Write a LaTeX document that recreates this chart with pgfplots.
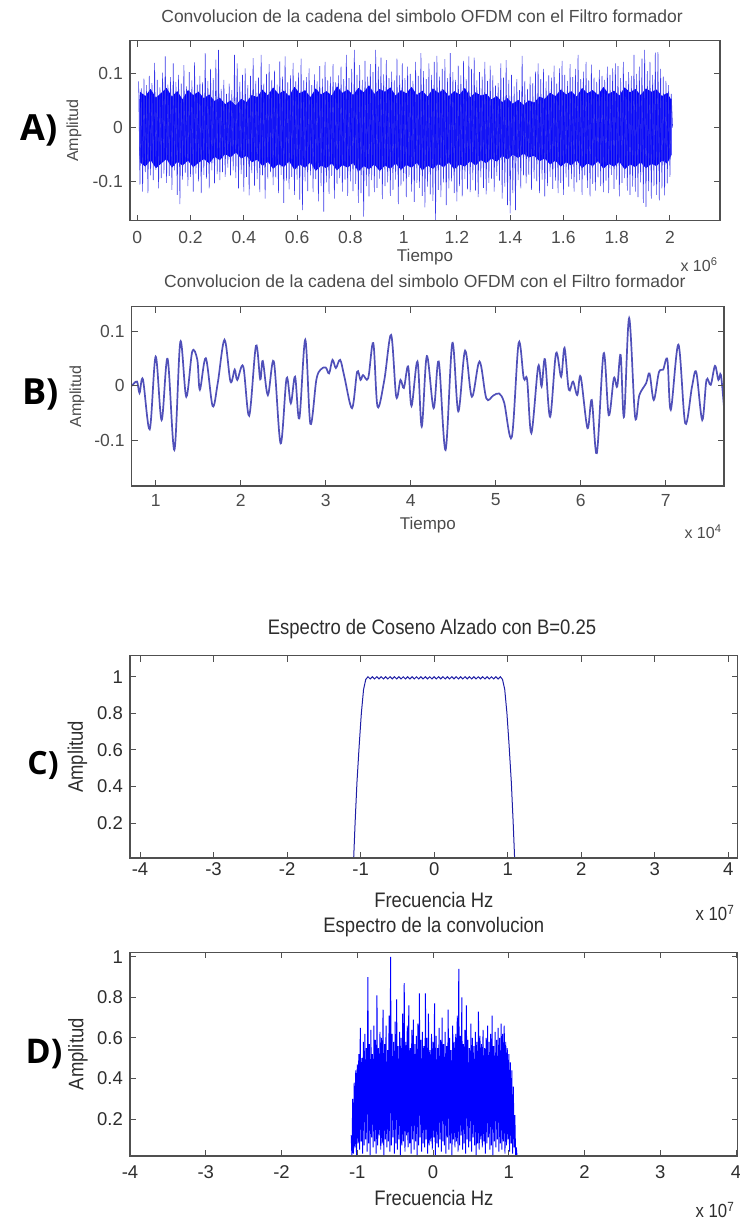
\documentclass[border=0pt]{standalone}
\usepackage{fontspec}
\setmainfont{Liberation Sans}
\newfontfamily\narrowsans[FakeStretch=0.88]{Liberation Sans}
\newfontfamily\panelfont{Open Sans}
\usepackage{pgfplots}
\pgfplotsset{compat=1.18}
\usepgfplotslibrary{fillbetween}

\definecolor{mtext}{RGB}{75,75,75}
\definecolor{mtextdark}{RGB}{45,45,45}
\definecolor{maxis}{RGB}{80,80,80}
\definecolor{sigblue}{RGB}{0,0,255}
\definecolor{spikeblue}{RGB}{55,55,232}
\definecolor{waveblue}{RGB}{80,80,185}
\definecolor{rcblue}{RGB}{30,30,165}

\newcommand\fs[1]{\fontsize{#1}{#1}\selectfont}

\pgfplotsset{
  oldmatlab/.style={
    scale only axis, axis on top,
    anchor=south west,
    tick align=inside, major tick length=6pt,
    every tick/.style={maxis, line width=1pt},
    axis line style={maxis, line width=1.2pt},
    /pgf/number format/assume math mode=true,
    scaled ticks=false,
    xticklabel style={anchor=center, inner sep=0pt},
    yticklabel style={anchor=east, inner sep=0pt, xshift=-7pt},
  },
}

\begin{document}
\begin{tikzpicture}[x=1pt,y=1pt]

% ---------------- A) time signal, full length ----------------
\begin{axis}[oldmatlab, at={(130pt,999.3pt)}, width=590pt, height=180pt,
  xmin=-0.0274, xmax=2.188, ymin=-0.1716, ymax=0.160,
  xtick={0,0.2,0.4,0.6,0.8,1,1.2,1.4,1.6,1.8,2}, ytick={-0.1,0,0.1},
  ticklabel style={font=\fs{17.5}, text=mtext},
  xticklabel style={yshift=-16.3pt},
  title={Convolucion de la cadena del simbolo OFDM con el Filtro formador},
  title style={at={(axis description cs:0.495,1.1)}, anchor=center, font=\fs{17.5}, text=mtext},
  xlabel={Tiempo},
  xlabel style={at={(axis description cs:0.5,-0.2017)}, anchor=center, font=\fs{17}, text=mtext},
  ylabel={Amplitud},
  ylabel style={at={(axis description cs:-0.0949,0.5)}, anchor=center, font=\fs{16}, text=mtext},
]
% dense core of the signal: upper and lower edges
\addplot[name path=coreup, draw=none] coordinates {
(0.008,0.050)(0.01,0.066)(0.03,0.058)(0.05,0.071)(0.07,0.055)(0.09,0.064)(0.11,0.073)(0.13,0.057)
(0.15,0.067)(0.17,0.052)(0.19,0.069)(0.21,0.060)(0.23,0.066)(0.25,0.054)(0.27,0.061)(0.29,0.049)
(0.31,0.055)(0.33,0.043)(0.35,0.050)(0.37,0.041)(0.39,0.053)(0.41,0.047)(0.43,0.060)(0.45,0.056)
(0.47,0.070)(0.49,0.059)(0.51,0.074)(0.53,0.062)(0.55,0.068)(0.57,0.058)(0.59,0.075)(0.61,0.063)
(0.63,0.069)(0.65,0.056)(0.67,0.072)(0.69,0.061)(0.71,0.067)(0.73,0.059)(0.75,0.076)(0.77,0.064)
(0.79,0.070)(0.81,0.060)(0.83,0.073)(0.85,0.065)(0.87,0.078)(0.89,0.062)(0.91,0.071)(0.93,0.066)
(0.95,0.074)(0.97,0.059)(0.99,0.069)(1.01,0.063)(1.03,0.075)(1.05,0.060)(1.07,0.068)(1.09,0.057)
(1.11,0.072)(1.13,0.064)(1.15,0.070)(1.17,0.058)(1.19,0.067)(1.21,0.061)(1.23,0.073)(1.25,0.056)
(1.27,0.065)(1.29,0.059)(1.31,0.062)(1.33,0.052)(1.35,0.058)(1.37,0.047)(1.39,0.054)(1.41,0.044)
(1.43,0.051)(1.45,0.042)(1.47,0.050)(1.49,0.046)(1.51,0.057)(1.53,0.053)(1.55,0.064)(1.57,0.058)
(1.59,0.070)(1.61,0.061)(1.63,0.067)(1.65,0.057)(1.67,0.073)(1.69,0.063)(1.71,0.069)(1.73,0.060)
(1.75,0.075)(1.77,0.062)(1.79,0.068)(1.81,0.059)(1.83,0.074)(1.85,0.065)(1.87,0.071)(1.89,0.060)
(1.91,0.072)(1.93,0.066)(1.95,0.070)(1.97,0.058)(1.99,0.064)(2.006,0.050)
};
\addplot[name path=corelo, draw=none] coordinates {
(0.008,-0.050)(0.01,-0.064)(0.03,-0.072)(0.05,-0.060)(0.07,-0.075)(0.09,-0.066)(0.11,-0.058)(0.13,-0.074)
(0.15,-0.063)(0.17,-0.070)(0.19,-0.061)(0.21,-0.073)(0.23,-0.065)(0.25,-0.058)(0.27,-0.066)(0.29,-0.054)
(0.31,-0.060)(0.33,-0.049)(0.35,-0.055)(0.37,-0.046)(0.39,-0.057)(0.41,-0.052)(0.43,-0.064)(0.45,-0.059)
(0.47,-0.071)(0.49,-0.063)(0.51,-0.076)(0.53,-0.067)(0.55,-0.073)(0.57,-0.062)(0.59,-0.078)(0.61,-0.068)
(0.63,-0.074)(0.65,-0.064)(0.67,-0.080)(0.69,-0.070)(0.71,-0.075)(0.73,-0.066)(0.75,-0.079)(0.77,-0.069)
(0.79,-0.074)(0.81,-0.065)(0.83,-0.081)(0.85,-0.071)(0.87,-0.077)(0.89,-0.068)(0.91,-0.080)(0.93,-0.070)
(0.95,-0.076)(0.97,-0.066)(0.99,-0.078)(1.01,-0.069)(1.03,-0.074)(1.05,-0.065)(1.07,-0.079)(1.09,-0.070)
(1.11,-0.076)(1.13,-0.067)(1.15,-0.073)(1.17,-0.064)(1.19,-0.077)(1.21,-0.068)(1.23,-0.072)(1.25,-0.062)
(1.27,-0.070)(1.29,-0.060)(1.31,-0.066)(1.33,-0.057)(1.35,-0.063)(1.37,-0.052)(1.39,-0.059)(1.41,-0.050)
(1.43,-0.056)(1.45,-0.048)(1.47,-0.055)(1.49,-0.052)(1.51,-0.062)(1.53,-0.057)(1.55,-0.068)(1.57,-0.061)
(1.59,-0.072)(1.61,-0.064)(1.63,-0.070)(1.65,-0.060)(1.67,-0.075)(1.69,-0.066)(1.71,-0.071)(1.73,-0.062)
(1.75,-0.076)(1.77,-0.067)(1.79,-0.072)(1.81,-0.063)(1.83,-0.077)(1.85,-0.068)(1.87,-0.073)(1.89,-0.064)
(1.91,-0.075)(1.93,-0.067)(1.95,-0.071)(1.97,-0.061)(1.99,-0.066)(2.006,-0.050)
};
\addplot[sigblue, draw=none] fill between[of=coreup and corelo];
% signal samples (alternating excursions), step 0.005e6
\addplot[spikeblue, line width=0.55pt] table[row sep=\\, header=false, x expr=0.005+\coordindex*0.005, y index=0] {
0.085\\ -0.105\\ 0.072\\ -0.118\\ 0.090\\ -0.082\\ 0.078\\ -0.121\\ 0.095\\ -0.088\\
0.082\\ -0.097\\ 0.119\\ -0.078\\ 0.088\\ -0.112\\ 0.074\\ -0.093\\ 0.101\\ -0.085\\
0.131\\ -0.102\\ 0.079\\ -0.089\\ 0.093\\ -0.115\\ 0.118\\ -0.079\\ 0.084\\ -0.124\\
0.097\\ -0.141\\ 0.081\\ -0.096\\ 0.115\\ -0.083\\ 0.076\\ -0.108\\ 0.102\\ -0.091\\
0.087\\ -0.118\\ 0.120\\ -0.085\\ 0.079\\ -0.099\\ 0.095\\ -0.121\\ 0.083\\ -0.087\\
0.137\\ -0.094\\ 0.086\\ -0.112\\ 0.108\\ -0.079\\ 0.091\\ -0.103\\ 0.125\\ -0.086\\
0.143\\ -0.097\\ 0.071\\ -0.082\\ 0.088\\ -0.091\\ 0.062\\ -0.074\\ 0.081\\ -0.088\\
0.069\\ -0.079\\ 0.134\\ -0.093\\ 0.118\\ -0.112\\ 0.084\\ -0.086\\ 0.097\\ -0.118\\
0.109\\ -0.091\\ 0.078\\ -0.125\\ 0.095\\ -0.084\\ 0.128\\ -0.107\\ 0.086\\ -0.095\\
0.092\\ -0.119\\ 0.134\\ -0.088\\ 0.081\\ -0.131\\ 0.099\\ -0.094\\ 0.117\\ -0.082\\
0.088\\ -0.106\\ 0.105\\ -0.092\\ 0.079\\ -0.121\\ 0.122\\ -0.087\\ 0.094\\ -0.139\\
0.131\\ -0.098\\ 0.083\\ -0.114\\ 0.096\\ -0.091\\ 0.119\\ -0.124\\ 0.085\\ -0.096\\
0.101\\ -0.133\\ 0.127\\ -0.152\\ 0.087\\ -0.099\\ 0.093\\ -0.117\\ 0.109\\ -0.088\\
0.078\\ -0.119\\ 0.098\\ -0.095\\ 0.085\\ -0.136\\ 0.113\\ -0.108\\ 0.090\\ -0.155\\
0.121\\ -0.101\\ 0.087\\ -0.122\\ 0.094\\ -0.089\\ 0.117\\ -0.131\\ 0.083\\ -0.104\\
0.096\\ -0.093\\ 0.112\\ -0.118\\ 0.089\\ -0.096\\ 0.134\\ -0.126\\ 0.091\\ -0.099\\
0.108\\ -0.117\\ 0.143\\ -0.104\\ 0.097\\ -0.139\\ 0.115\\ -0.121\\ 0.088\\ -0.164\\
0.123\\ -0.108\\ 0.094\\ -0.127\\ 0.117\\ -0.097\\ 0.102\\ -0.119\\ 0.143\\ -0.111\\
0.112\\ -0.094\\ 0.129\\ -0.132\\ 0.098\\ -0.108\\ 0.124\\ -0.101\\ 0.091\\ -0.126\\
0.103\\ -0.115\\ 0.087\\ -0.096\\ 0.127\\ -0.141\\ 0.096\\ -0.107\\ 0.118\\ -0.099\\
0.091\\ -0.128\\ 0.112\\ -0.091\\ 0.099\\ -0.118\\ 0.086\\ -0.137\\ 0.121\\ -0.102\\
0.095\\ -0.111\\ 0.137\\ -0.126\\ 0.104\\ -0.147\\ 0.089\\ -0.109\\ 0.118\\ -0.123\\
0.097\\ -0.135\\ 0.121\\ -0.170\\ 0.132\\ -0.115\\ 0.094\\ -0.128\\ 0.108\\ -0.101\\
0.126\\ -0.143\\ 0.091\\ -0.112\\ 0.137\\ -0.099\\ 0.102\\ -0.121\\ 0.088\\ -0.136\\
0.114\\ -0.108\\ 0.096\\ -0.127\\ 0.123\\ -0.095\\ 0.089\\ -0.114\\ 0.131\\ -0.119\\
0.108\\ -0.097\\ 0.129\\ -0.116\\ 0.087\\ -0.128\\ 0.102\\ -0.092\\ 0.094\\ -0.111\\
0.121\\ -0.123\\ 0.086\\ -0.102\\ 0.114\\ -0.094\\ 0.096\\ -0.118\\ 0.077\\ -0.089\\
0.082\\ -0.098\\ 0.118\\ -0.131\\ 0.092\\ -0.109\\ 0.124\\ -0.143\\ 0.088\\ -0.158\\
0.097\\ -0.121\\ 0.076\\ -0.152\\ 0.089\\ -0.097\\ 0.069\\ -0.112\\ 0.132\\ -0.088\\
0.086\\ -0.103\\ 0.071\\ -0.087\\ 0.094\\ -0.115\\ 0.082\\ -0.094\\ 0.103\\ -0.099\\
0.118\\ -0.121\\ 0.089\\ -0.096\\ 0.108\\ -0.127\\ 0.085\\ -0.108\\ 0.096\\ -0.091\\
0.092\\ -0.113\\ 0.114\\ -0.098\\ 0.081\\ -0.121\\ 0.109\\ -0.102\\ 0.123\\ -0.124\\
0.097\\ -0.092\\ 0.086\\ -0.109\\ 0.117\\ -0.095\\ 0.093\\ -0.118\\ 0.108\\ -0.101\\
0.134\\ -0.097\\ 0.089\\ -0.124\\ 0.103\\ -0.088\\ 0.121\\ -0.111\\ 0.087\\ -0.127\\
0.116\\ -0.104\\ 0.092\\ -0.116\\ 0.084\\ -0.092\\ 0.106\\ -0.108\\ 0.095\\ -0.119\\
0.088\\ -0.098\\ 0.112\\ -0.121\\ 0.097\\ -0.087\\ 0.109\\ -0.113\\ 0.118\\ -0.096\\
0.113\\ -0.127\\ 0.091\\ -0.102\\ 0.121\\ -0.093\\ 0.086\\ -0.116\\ 0.102\\ -0.124\\
0.095\\ -0.109\\ 0.134\\ -0.118\\ 0.099\\ -0.128\\ 0.112\\ -0.101\\ 0.127\\ -0.139\\
0.143\\ -0.146\\ 0.104\\ -0.117\\ 0.121\\ -0.131\\ 0.097\\ -0.108\\ 0.138\\ -0.124\\
0.139\\ -0.134\\ 0.108\\ -0.112\\ 0.094\\ -0.125\\ 0.086\\ -0.103\\ 0.078\\ -0.091\\
0.062\\ 0.000\\
};
\end{axis}

% ---------------- B) time signal, detail ----------------
\begin{axis}[oldmatlab, at={(131.7pt,734pt)}, width=592.3pt, height=179.3pt,
  xmin=0.718, xmax=7.686, ymin=-0.1845, ymax=0.146,
  xtick={1,2,3,4,5,6,7}, ytick={-0.1,0,0.1},
  ticklabel style={font=\fs{17.5}, text=mtext},
  xticklabel style={yshift=-14pt},
  title={Convolucion de la cadena del simbolo OFDM con el Filtro formador},
  title style={at={(axis description cs:0.495,1.11)}, anchor=center, font=\fs{17.5}, text=mtext},
  xlabel={Tiempo},
  xlabel style={at={(axis description cs:0.5,-0.2175)}, anchor=center, font=\fs{17}, text=mtext},
  ylabel={Amplitud},
  ylabel style={at={(axis description cs:-0.0924,0.5)}, anchor=center, font=\fs{16}, text=mtext},
]
\addplot[waveblue, line width=1.7pt, smooth, tension=0.55] coordinates {
(0.72,0.000)(0.78,0.008)(0.81,-0.013)(0.85,0.012)(0.93,-0.080)(1.00,0.054)(1.07,-0.063)
(1.14,0.050)(1.22,-0.118)(1.29,0.081)(1.36,-0.020)(1.43,0.063)(1.49,0.048)(1.52,-0.007)
(1.59,0.051)(1.67,-0.037)(1.73,0.005)(1.81,0.085)(1.88,0.008)(1.93,0.030)(1.96,0.011)
(2.03,0.036)(2.10,-0.055)(2.18,0.074)(2.23,0.012)(2.26,0.046)(2.32,-0.017)(2.39,0.045)
(2.47,-0.106)(2.54,0.014)(2.59,-0.032)(2.64,0.017)(2.69,-0.060)(2.76,0.085)(2.82,-0.070)
(2.89,0.011)(2.94,0.030)(3.00,0.034)(3.04,0.023)(3.08,0.048)(3.12,0.033)(3.17,0.048)
(3.22,0.017)(3.31,-0.041)(3.37,0.026)(3.41,0.011)(3.44,0.020)(3.50,0.014)(3.56,0.079)
(3.61,-0.038)(3.69,0.011)(3.77,0.094)(3.83,-0.020)(3.88,0.011)(3.92,-0.004)(3.97,0.036)
(4.01,-0.037)(4.08,0.045)(4.13,-0.075)(4.19,0.055)(4.27,-0.041)(4.33,0.045)(4.41,-0.118)
(4.49,0.079)(4.56,-0.047)(4.64,0.065)(4.72,-0.020)(4.81,0.045)(4.89,-0.023)(4.97,-0.018)
(5.04,-0.014)(5.10,-0.031)(5.19,-0.094)(5.27,0.079)(5.33,0.014)(5.37,0.011)(5.42,-0.087)
(5.50,0.036)(5.54,-0.001)(5.58,0.049)(5.64,-0.057)(5.71,0.060)(5.77,0.017)(5.81,0.070)
(5.86,-0.007)(5.91,0.008)(5.96,-0.017)(6.00,0.017)(6.08,-0.078)(6.13,-0.026)(6.19,-0.124)
(6.27,0.060)(6.33,-0.054)(6.39,0.014)(6.43,-0.001)(6.47,0.057)(6.51,-0.057)(6.57,0.125)
(6.64,-0.057)(6.69,-0.017)(6.77,0.005)(6.81,0.023)(6.86,-0.026)(6.92,0.025)(6.97,0.030)
(7.02,0.048)(7.06,-0.044)(7.15,0.076)(7.23,-0.069)(7.31,-0.001)(7.36,0.025)(7.43,-0.063)
(7.48,0.011)(7.53,0.002)(7.58,0.037)(7.62,0.011)(7.65,0.020)(7.69,-0.047)
};
\end{axis}

% ---------------- C) raised cosine spectrum ----------------
\begin{axis}[oldmatlab, at={(130pt,362pt)}, width=607.7pt, height=202.3pt,
  xmin=-4.136, xmax=4.128, ymin=0.009, ymax=1.115,
  xtick={-4,-3,-2,-1,0,1,2,3,4}, ytick={0.2,0.4,0.6,0.8,1},
  ticklabel style={font=\fs{18.5}, text=mtextdark},
  xticklabel style={yshift=-11pt},
  title={Espectro de Coseno Alzado con B=0.25},
  title style={at={(axis description cs:0.497,1.102)}, anchor=center, font=\narrowsans\fs{21}, text=mtextdark},
  xlabel={Frecuencia Hz},
  xlabel style={at={(axis description cs:0.5,-0.2076)}, anchor=center, font=\narrowsans\fs{21}, text=mtextdark},
  ylabel={Amplitud},
  ylabel style={at={(axis description cs:-0.0864,0.5)}, anchor=center, font=\narrowsans\fs{21}, text=mtextdark},
]
\addplot[rcblue, line width=1pt] coordinates {
(-4.2,0)(-1.095,0)(-1.075,0.20)(-1.05,0.42)(-1.02,0.62)(-0.99,0.80)(-0.96,0.93)(-0.93,0.985)
(-0.90,1.000)(-0.87,0.988)(-0.84,1.000)(-0.81,0.988)(-0.78,1.000)(-0.75,0.988)(-0.72,1.000)
(-0.69,0.988)(-0.66,1.000)(-0.63,0.988)(-0.60,1.000)(-0.57,0.988)(-0.54,1.000)(-0.51,0.988)
(-0.48,1.000)(-0.45,0.988)(-0.42,1.000)(-0.39,0.988)(-0.36,1.000)(-0.33,0.988)(-0.30,1.000)
(-0.27,0.988)(-0.24,1.000)(-0.21,0.988)(-0.18,1.000)(-0.15,0.988)(-0.12,1.000)(-0.09,0.988)
(-0.06,1.000)(-0.03,0.988)(0.00,1.000)(0.03,0.988)(0.06,1.000)(0.09,0.988)(0.12,1.000)
(0.15,0.988)(0.18,1.000)(0.21,0.988)(0.24,1.000)(0.27,0.988)(0.30,1.000)(0.33,0.988)
(0.36,1.000)(0.39,0.988)(0.42,1.000)(0.45,0.988)(0.48,1.000)(0.51,0.988)(0.54,1.000)
(0.57,0.988)(0.60,1.000)(0.63,0.988)(0.66,1.000)(0.69,0.988)(0.72,1.000)(0.75,0.988)
(0.78,1.000)(0.81,0.988)(0.84,1.000)(0.87,0.988)(0.90,1.000)
(0.93,0.985)(0.96,0.93)(0.99,0.80)(1.02,0.62)(1.05,0.42)(1.075,0.20)(1.095,0)(4.2,0)
};
\end{axis}

% ---------------- D) spectrum of the convolution ----------------
\begin{axis}[oldmatlab, at={(130pt,64pt)}, width=607.7pt, height=203.7pt,
  xmin=-4, xmax=4.022, ymin=0.018, ymax=1.022,
  xtick={-4,-3,-2,-1,0,1,2,3,4}, ytick={0.2,0.4,0.6,0.8,1},
  ticklabel style={font=\fs{18.5}, text=mtextdark},
  xticklabel style={yshift=-16pt},
  title={Espectro de la convolucion},
  title style={at={(axis description cs:0.5,1.095)}, anchor=center, font=\narrowsans\fs{21}, text=mtextdark},
  xlabel={Frecuencia Hz},
  xlabel style={at={(axis description cs:0.5,-0.206)}, anchor=center, font=\narrowsans\fs{21}, text=mtextdark},
  ylabel={Amplitud},
  ylabel style={at={(axis description cs:-0.0856,0.5)}, anchor=center, font=\narrowsans\fs{21}, text=mtextdark},
]
% spectrum magnitude bins, step 0.01e7
\addplot[sigblue, line width=0.95pt] table[row sep=\\, header=false, x expr=-1.08+\coordindex*0.01, y index=0] {
0.12\\ 0.01\\ 0.30\\ 0.03\\ 0.38\\ 0.06\\ 0.44\\ 0.02\\ 0.47\\ 0.08\\
0.52\\ 0.05\\ 0.65\\ 0.09\\ 0.50\\ 0.03\\ 0.58\\ 0.07\\ 0.62\\ 0.10\\
0.55\\ 0.04\\ 0.90\\ 0.08\\ 0.57\\ 0.02\\ 0.64\\ 0.11\\ 0.52\\ 0.06\\
0.66\\ 0.09\\ 0.59\\ 0.03\\ 0.81\\ 0.07\\ 0.55\\ 0.12\\ 0.63\\ 0.05\\
0.60\\ 0.08\\ 0.74\\ 0.02\\ 0.57\\ 0.10\\ 0.66\\ 0.06\\ 0.54\\ 0.09\\
0.71\\ 0.04\\ 1.00\\ 0.07\\ 0.62\\ 0.11\\ 0.58\\ 0.03\\ 0.68\\ 0.08\\
0.79\\ 0.05\\ 0.56\\ 0.10\\ 0.63\\ 0.02\\ 0.60\\ 0.07\\ 0.72\\ 0.09\\
0.87\\ 0.04\\ 0.58\\ 0.12\\ 0.66\\ 0.06\\ 0.76\\ 0.08\\ 0.55\\ 0.03\\
0.64\\ 0.10\\ 0.69\\ 0.05\\ 0.57\\ 0.09\\ 0.61\\ 0.02\\ 0.67\\ 0.07\\
0.82\\ 0.11\\ 0.59\\ 0.04\\ 0.63\\ 0.08\\ 0.56\\ 0.06\\ 0.82\\ 0.10\\
0.60\\ 0.03\\ 0.72\\ 0.07\\ 0.54\\ 0.09\\ 0.62\\ 0.05\\ 0.58\\ 0.11\\
0.77\\ 0.02\\ 0.61\\ 0.08\\ 0.55\\ 0.06\\ 0.65\\ 0.10\\ 0.59\\ 0.04\\
0.70\\ 0.09\\ 0.57\\ 0.07\\ 0.63\\ 0.03\\ 0.56\\ 0.11\\ 0.74\\ 0.05\\
0.60\\ 0.08\\ 0.54\\ 0.02\\ 0.66\\ 0.10\\ 0.58\\ 0.06\\ 0.62\\ 0.09\\
0.71\\ 0.04\\ 0.94\\ 0.07\\ 0.61\\ 0.12\\ 0.80\\ 0.05\\ 0.57\\ 0.08\\
0.64\\ 0.03\\ 0.76\\ 0.10\\ 0.59\\ 0.06\\ 0.55\\ 0.09\\ 0.67\\ 0.04\\
0.60\\ 0.11\\ 0.56\\ 0.07\\ 0.63\\ 0.02\\ 0.58\\ 0.08\\ 0.73\\ 0.05\\
0.61\\ 0.10\\ 0.57\\ 0.06\\ 0.64\\ 0.09\\ 0.55\\ 0.03\\ 0.60\\ 0.08\\
0.66\\ 0.11\\ 0.58\\ 0.05\\ 0.62\\ 0.07\\ 0.71\\ 0.02\\ 0.56\\ 0.09\\
0.63\\ 0.06\\ 0.59\\ 0.10\\ 0.65\\ 0.04\\ 0.60\\ 0.08\\ 0.67\\ 0.05\\
0.62\\ 0.09\\ 0.66\\ 0.03\\ 0.58\\ 0.07\\ 0.55\\ 0.10\\ 0.52\\ 0.04\\
0.48\\ 0.08\\ 0.44\\ 0.03\\ 0.36\\ 0.06\\ 0.22\\ 0.02\\ 0.06\\ 0.01\\
};
\end{axis}

% axis multipliers
\node[font=\fs{16}, text=mtext] at (699,955) {x 10\textsuperscript{6}};
\node[font=\fs{16}, text=mtext] at (703,688) {x 10\textsuperscript{4}};
\node[font=\narrowsans\fs{19}, text=mtextdark] at (715,307) {x 10\textsuperscript{7}};
\node[font=\narrowsans\fs{19}, text=mtextdark] at (715,10) {x 10\textsuperscript{7}};

% panel letters
\node[font=\panelfont\bfseries\fs{36}] at (39,1090) {A)};
\node[font=\panelfont\bfseries\fs{36}] at (41,825) {B)};
\node[font=\panelfont\bfseries\fs{32}] at (43,455) {C)};
\node[font=\panelfont\bfseries\fs{34}] at (44,166) {D)};

% page frame
\pgfresetboundingbox
\path[use as bounding box] (0,0) rectangle (739,1220);
\end{tikzpicture}
\end{document}
